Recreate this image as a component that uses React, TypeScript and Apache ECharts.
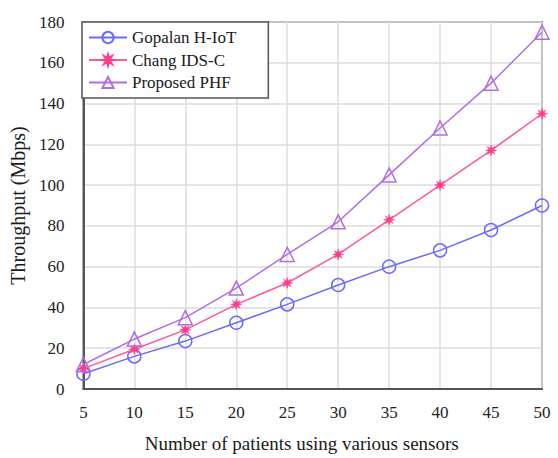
import React, { useEffect, useRef } from "react";
import * as echarts from "echarts";

const patients = [5, 10, 15, 20, 25, 30, 35, 40, 45, 50];
const gopalan = [7.5, 16, 23.5, 32.5, 41.5, 51, 60, 68, 78, 90];
const chang = [10, 19.5, 29, 41.5, 52, 66, 83, 100, 117, 135];
const proposed = [12, 24.5, 35, 49.5, 66, 82, 105, 128, 150, 175];
const seriesNames = ["Gopalan H-IoT", "Chang IDS-C", "Proposed PHF"];

const FONT = "'Liberation Serif', 'Times New Roman', serif";
const STAR =
  "path://M5 0L5.8 3.1L8.5 1.5L6.9 4.2L10 5L6.9 5.8L8.5 8.5L5.8 6.9L5 10L4.2 6.9L1.5 8.5L3.1 5.8L0 5L3.1 4.2L1.5 1.5L4.2 3.1Z";

export default function App() {
  const ref = useRef<HTMLDivElement>(null);
  useEffect(() => {
    if (!ref.current) return;
    const chart = echarts.init(ref.current, undefined, { renderer: "svg" });
    const mk = (vals: number[]) => vals.map((v, i) => [patients[i], v]);
    chart.setOption({
      animation: false,
      backgroundColor: "#fff",
      textStyle: { fontFamily: FONT },
      grid: {
        left: 82,
        right: 16,
        top: 22,
        bottom: 68,
        show: true,
        borderColor: "#777",
        borderWidth: 2,
      },
      legend: {
        orient: "vertical",
        left: 82,
        top: 22,
        itemWidth: 38,
        itemHeight: 14,
        itemGap: 5.5,
        padding: [7, 32, 7, 6],
        borderColor: "#555",
        borderWidth: 1.5,
        backgroundColor: "#fff",
        textStyle: { fontFamily: FONT, fontSize: 17, color: "#1a1a1a" },
        data: seriesNames,
      },
      xAxis: {
        type: "value",
        min: 5,
        max: 50,
        interval: 5,
        name: "Number of patients using various sensors",
        nameLocation: "middle",
        nameGap: 45,
        nameTextStyle: {
          fontFamily: FONT,
          fontSize: 19,
          color: "#1a1a1a",
          padding: [0, 22, 0, 0],
        },
        axisLine: { lineStyle: { color: "#555", width: 2 } },
        axisTick: { show: false },
        axisLabel: { fontFamily: FONT, fontSize: 17, color: "#222", margin: 15 },
        splitLine: { show: true, lineStyle: { color: "#dcdcdc", width: 1.5 } },
      },
      yAxis: {
        type: "value",
        min: 0,
        max: 180,
        interval: 20,
        name: "Throughput (Mbps)",
        nameLocation: "middle",
        nameGap: 47,
        nameTextStyle: { fontFamily: FONT, fontSize: 20, color: "#1a1a1a" },
        axisLine: { show: true, lineStyle: { color: "#555", width: 2 } },
        axisTick: { show: false },
        axisLabel: { fontFamily: FONT, fontSize: 17, color: "#222", margin: 19 },
        splitLine: { show: true, lineStyle: { color: "#dcdcdc", width: 1.5 } },
      },
      series: [
        {
          name: seriesNames[0],
          type: "line",
          data: mk(gopalan),
          symbol: "circle",
          symbolSize: 13,
          lineStyle: { color: "#6b6bff", width: 1.5 },
          itemStyle: { color: "rgba(0,0,0,0)", borderColor: "#6b6bff", borderWidth: 1.5 },
          z: 3,
        },
        {
          name: seriesNames[1],
          type: "line",
          data: mk(chang),
          symbol: STAR,
          symbolSize: 11,
          lineStyle: { color: "#ff5a9a", width: 1.5 },
          itemStyle: { color: "#ff3d8a", borderColor: "#ff3d8a", borderWidth: 0.5 },
          z: 4,
        },
        {
          name: seriesNames[2],
          type: "line",
          data: mk(proposed),
          symbol: "triangle",
          symbolSize: 14,
          lineStyle: { color: "#b06ee0", width: 1.5 },
          itemStyle: { color: "rgba(0,0,0,0)", borderColor: "#b06ee0", borderWidth: 1.5 },
          z: 5,
        },
      ],
    });
    return () => chart.dispose();
  }, []);
  return (
    <div
      ref={ref}
      style={{ position: "fixed", left: 0, top: 0, width: 558, height: 458 }}
    />
  );
}
